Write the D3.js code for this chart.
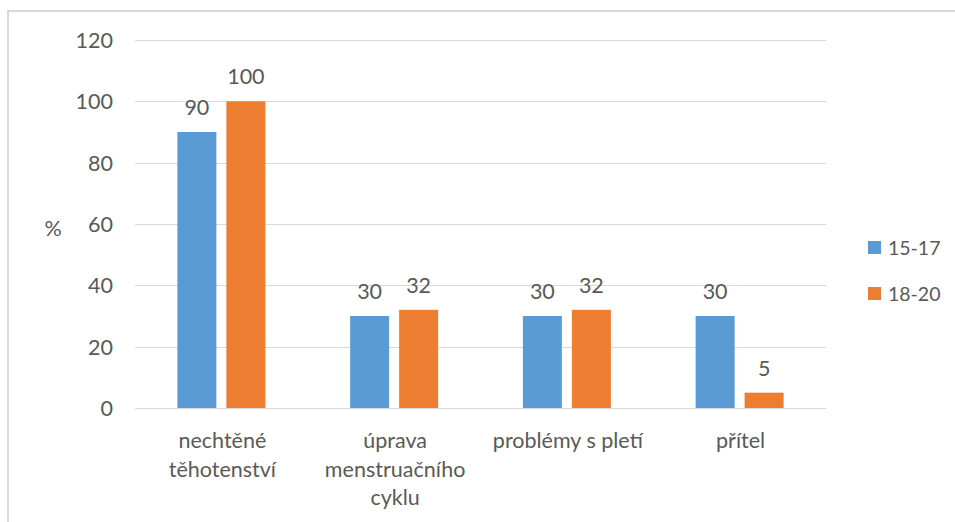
<!DOCTYPE html>
<html>
<head>
<meta charset="utf-8">
<script src="https://cdn.jsdelivr.net/npm/d3@7"></script>
<style>
  html, body { margin: 0; padding: 0; background: #fff; }
  svg { display: block; }
  text { font-family: Lato, "Open Sans", sans-serif; fill: #595959; }
</style>
</head>
<body>
<svg id="chart" width="955" height="522"></svg>
<script>
// Reasons for using hormonal contraception, by age group (%)
const categories = [
  ["nechtěné", "těhotenství"],
  ["úprava", "menstruačního", "cyklu"],
  ["problémy s pletí"],
  ["přítel"]
];
const seriesNames = ["15-17", "18-20"];
const values1517 = [90, 30, 30, 30];
const values1820 = [100, 32, 32, 5];
const yTicks = [0, 20, 40, 60, 80, 100, 120];
const colors = ["#5B9BD5", "#ED7D31"];

const svg = d3.select("#chart");
const FS = 21.5;

// chart area frame
svg.append("rect")
  .attr("x", 8).attr("y", 11)
  .attr("width", 960).attr("height", 530)
  .attr("fill", "#fff")
  .attr("stroke", "#d9d9d9").attr("stroke-width", 2);

const plot = { left: 135, right: 826, top: 40, bottom: 408 };

const x0 = d3.scaleBand()
  .domain(d3.range(categories.length))
  .range([plot.left, plot.right])
  .paddingInner(0).paddingOuter(0);

const barW = 39, barGap = 10;
const groupW = barW * 2 + barGap;

const y = d3.scaleLinear().domain([0, 120]).range([plot.bottom, plot.top]);

// gridlines
svg.append("g")
  .selectAll("line")
  .data(yTicks)
  .join("line")
  .attr("x1", plot.left).attr("x2", plot.right)
  .attr("y1", d => Math.round(y(d)) + 0.5).attr("y2", d => Math.round(y(d)) + 0.5)
  .attr("stroke", "#d9d9d9").attr("stroke-width", 1);

// y axis labels
const yAxis = d3.axisLeft(y).tickValues(yTicks).tickSize(0).tickPadding(0);
const gy = svg.append("g").attr("transform", `translate(113,0)`).call(yAxis);
gy.select(".domain").remove();
gy.selectAll("text")
  .attr("font-size", FS)
  .attr("font-family", "Lato, 'Open Sans', sans-serif")
  .attr("fill", "#595959")
  .attr("dy", "0.35em");

svg.append("text")
  .attr("x", 53).attr("y", 228)
  .attr("text-anchor", "middle")
  .attr("dy", "0.35em")
  .attr("font-size", FS)
  .text("%");

// bars with value labels
const seriesData = [values1517, values1820];
seriesData.forEach((vals, si) => {
  const g = svg.append("g");
  vals.forEach((v, ci) => {
    const bx = x0(ci) + (x0.bandwidth() - groupW) / 2 + si * (barW + barGap);
    g.append("rect")
      .attr("x", bx)
      .attr("y", y(v))
      .attr("width", barW)
      .attr("height", y(0) - y(v))
      .attr("fill", colors[si]);
    g.append("text")
      .attr("x", bx + barW / 2)
      .attr("y", y(v) - 17)
      .attr("text-anchor", "middle")
      .attr("font-size", FS)
      .text(v);
  });
});

// category labels
categories.forEach((lines, ci) => {
  const t = svg.append("text")
    .attr("text-anchor", "middle")
    .attr("font-size", FS);
  lines.forEach((ln, li) => {
    t.append("tspan")
      .attr("x", x0(ci) + x0.bandwidth() / 2 + 1)
      .attr("y", 448 + li * 28.5)
      .text(ln);
  });
});

// legend
const legend = svg.append("g");
seriesNames.forEach((name, i) => {
  const ly = 247 + i * 46;
  legend.append("rect")
    .attr("x", 868).attr("y", ly - 6)
    .attr("width", 13).attr("height", 13)
    .attr("fill", colors[i]);
  legend.append("text")
    .attr("x", 888).attr("y", ly + 1)
    .attr("dy", "0.35em")
    .attr("font-size", 19.5)
    .text(name);
});
</script>
</body>
</html>
